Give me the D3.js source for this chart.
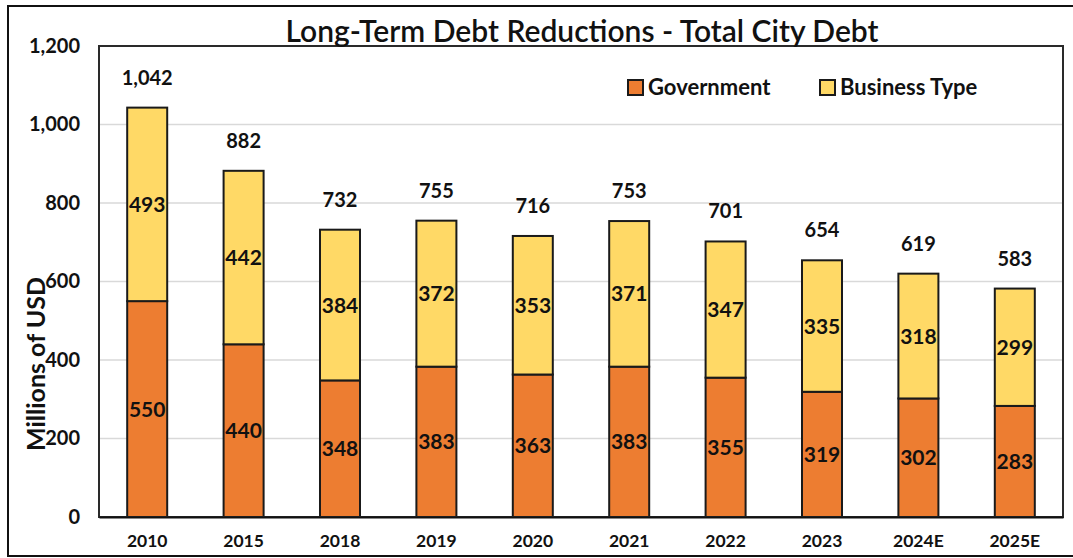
<!DOCTYPE html>
<html>
<head>
<meta charset="utf-8">
<script src="https://cdn.jsdelivr.net/npm/d3@7"></script>
<style>
  html, body { margin: 0; padding: 0; background: #fff; }
  svg { display: block; }
  text { font-family: Lato, "Open Sans", sans-serif; fill: #111; }
</style>
</head>
<body>
<svg id="chart" width="1073" height="558"></svg>
<script>
// Fiscal years shown on the x axis
const years = ["2010", "2015", "2018", "2019", "2020", "2021", "2022", "2023", "2024E", "2025E"];
// Long-term debt by fund type, millions of USD
const government = [550, 440, 348, 383, 363, 383, 355, 319, 302, 283];
const businessType = [493, 442, 384, 372, 353, 371, 347, 335, 318, 299];
// Reported totals printed above each bar
const totals = [1042, 882, 732, 755, 716, 753, 701, 654, 619, 583];
const yTicks = [0, 200, 400, 600, 800, 1000, 1200];

const seriesNames = ["Government", "Business Type"];
const colors = { "Government": "#ED7D31", "Business Type": "#FFD966" };

const svg = d3.select("#chart");
const W = 1073, H = 558;
const margin = { left: 99, top: 46, right: 1073 - 1063, bottom: 558 - 517 };

// Outer chart frame
svg.append("rect")
  .attr("x", 8).attr("y", 6)
  .attr("width", W + 10).attr("height", 550)
  .attr("fill", "#fff").attr("stroke", "#111").attr("stroke-width", 2);

const x = d3.scaleBand()
  .domain(years)
  .range([margin.left, W - margin.right])
  .paddingInner(0.585)
  .paddingOuter(0.2925);

const y = d3.scaleLinear()
  .domain([0, 1200])
  .range([H - margin.bottom, margin.top]);

// Horizontal gridlines
svg.append("g")
  .selectAll("line")
  .data(yTicks.filter(t => t > 0 && t < 1200))
  .join("line")
  .attr("x1", margin.left).attr("x2", W - margin.right)
  .attr("y1", d => y(d)).attr("y2", d => y(d))
  .attr("stroke", "#d9d9d9").attr("stroke-width", 1.5);

// Stack the two fund types
const rows = years.map((yr, i) => ({ year: yr, "Government": government[i], "Business Type": businessType[i] }));
const stacked = d3.stack().keys(seriesNames)(rows);

const layers = svg.append("g")
  .selectAll("g")
  .data(stacked)
  .join("g")
  .attr("fill", d => colors[d.key]);

layers.selectAll("rect")
  .data(d => d)
  .join("rect")
  .attr("x", d => x(d.data.year))
  .attr("width", x.bandwidth())
  .attr("y", d => y(d[1]))
  .attr("height", d => y(d[0]) - y(d[1]))
  .attr("stroke", "#1a1a1a")
  .attr("stroke-width", 2);

// Segment value labels
layers.selectAll("text")
  .data(d => d.map(s => ({ s, key: d.key })))
  .join("text")
  .attr("x", d => x(d.s.data.year) + x.bandwidth() / 2)
  .attr("y", d => y((d.s[0] + d.s[1]) / 2))
  .attr("dy", "0.36em")
  .attr("text-anchor", "middle")
  .attr("font-size", 21)
  .attr("font-weight", "bold")
  .text(d => d.s.data[d.key]);

// Totals above the bars
const topLayer = stacked[stacked.length - 1];
svg.append("g")
  .selectAll("text")
  .data(topLayer)
  .join("text")
  .attr("x", d => x(d.data.year) + x.bandwidth() / 2)
  .attr("y", d => y(d[1]) - 23)
  .attr("text-anchor", "middle")
  .attr("font-size", 20)
  .attr("font-weight", "bold")
  .text((d, i) => d3.format(",")(totals[i]));

// Plot area border
svg.append("rect")
  .attr("x", margin.left).attr("y", margin.top)
  .attr("width", W - margin.right - margin.left)
  .attr("height", H - margin.bottom - margin.top)
  .attr("fill", "none").attr("stroke", "#2a2a2a").attr("stroke-width", 2);

// Y axis tick labels
const yAxis = d3.axisLeft(y).tickValues(yTicks).tickSize(0).tickPadding(19)
  .tickFormat(d3.format(","));
svg.append("g")
  .attr("transform", `translate(${margin.left},0)`)
  .call(yAxis)
  .call(g => g.select(".domain").remove())
  .call(g => g.selectAll("text")
    .attr("font-size", 20).attr("font-weight", "bold")
    .attr("font-family", "Lato, sans-serif").attr("fill", "#111"));

// X axis category labels
const xAxis = d3.axisBottom(x).tickSize(0).tickPadding(18);
svg.append("g")
  .attr("transform", `translate(0,${H - margin.bottom})`)
  .call(xAxis)
  .call(g => g.select(".domain").attr("stroke", "#111").attr("stroke-width", 2))
  .call(g => g.selectAll("text")
    .attr("font-size", 17.5).attr("font-weight", "bold")
    .attr("font-family", "Lato, sans-serif").attr("fill", "#111"));

// Y axis title
svg.append("text")
  .attr("transform", "translate(45,364) rotate(-90)")
  .attr("text-anchor", "middle")
  .attr("font-size", 25)
  .attr("font-weight", "bold")
  .text("Millions of USD");

// Chart title
svg.append("text")
  .attr("x", 582).attr("y", 42)
  .attr("text-anchor", "middle")
  .attr("font-size", 30)
  .attr("font-weight", 600)
  .text("Long-Term Debt Reductions - Total City Debt");

// Legend
const legend = svg.append("g")
  .selectAll("g")
  .data(seriesNames)
  .join("g")
  .attr("transform", (d, i) => `translate(${[628, 820][i]},80)`);
legend.append("rect")
  .attr("width", 15).attr("height", 15)
  .attr("fill", d => colors[d])
  .attr("stroke", "#1a1a1a").attr("stroke-width", 2);
legend.append("text")
  .attr("x", 20).attr("y", 7.5).attr("dy", "0.36em")
  .attr("font-size", 22).attr("font-weight", "bold")
  .text(d => d);
</script>
</body>
</html>
